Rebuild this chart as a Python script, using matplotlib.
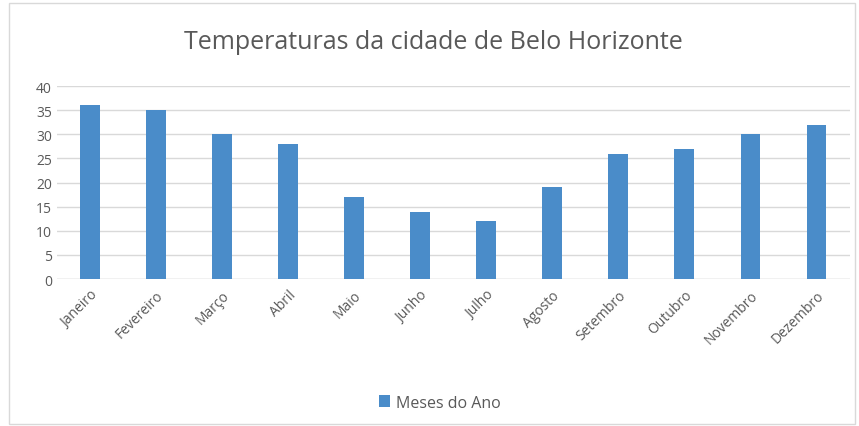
import matplotlib
matplotlib.use("Agg")
import matplotlib.pyplot as plt
from matplotlib.patches import Rectangle

# Dados do grafico
meses = ["Janeiro", "Fevereiro", "Março", "Abril", "Maio", "Junho",
         "Julho", "Agosto", "Setembro", "Outubro", "Novembro", "Dezembro"]
temperaturas = [36, 35, 30, 28, 17, 14, 12, 19, 26, 27, 30, 32]
yticks = [0, 5, 10, 15, 20, 25, 30, 35, 40]

plt.rcParams["font.family"] = ["Open Sans", "DejaVu Sans"]

fig = plt.figure(figsize=(8.59, 4.27), dpi=100)
ax = fig.add_axes([0.066, 0.344, 0.923, 0.452])

x = range(len(meses))
ax.bar(x, temperaturas, width=0.3, color="#4a8cc9", label="Meses do Ano", zorder=3)

ax.set_ylim(0, 40)
ax.set_xlim(-0.5, len(meses) - 0.5)
ax.set_yticks(yticks)
ax.set_xticks(list(x))
ax.set_xticklabels(meses, rotation=45, ha="right", rotation_mode="anchor")
ax.tick_params(axis="both", length=0, colors="#595959", labelsize=10)
ax.tick_params(axis="x", pad=6)
ax.grid(axis="y", color="#d9d9d9", linewidth=1, zorder=0)
for s in ax.spines.values():
    s.set_visible(False)
ax.axhline(0, color="#d9d9d9", linewidth=1, zorder=1)

fig.text(0.505, 0.9, "Temperaturas da cidade de Belo Horizonte",
         ha="center", va="center", fontsize=18, color="#595959")

fig.legend(loc="center", bbox_to_anchor=(0.512, 0.055), frameon=False,
           fontsize=11.5, handlelength=0.7, handleheight=0.7, handletextpad=0.4,
           labelcolor="#595959")

# moldura cinza do grafico
fig.patches.append(Rectangle((0.01, 0.005), 0.985, 0.985, transform=fig.transFigure,
                             fill=False, edgecolor="#d9d9d9", linewidth=1))

fig.savefig("out.png", dpi=100)
